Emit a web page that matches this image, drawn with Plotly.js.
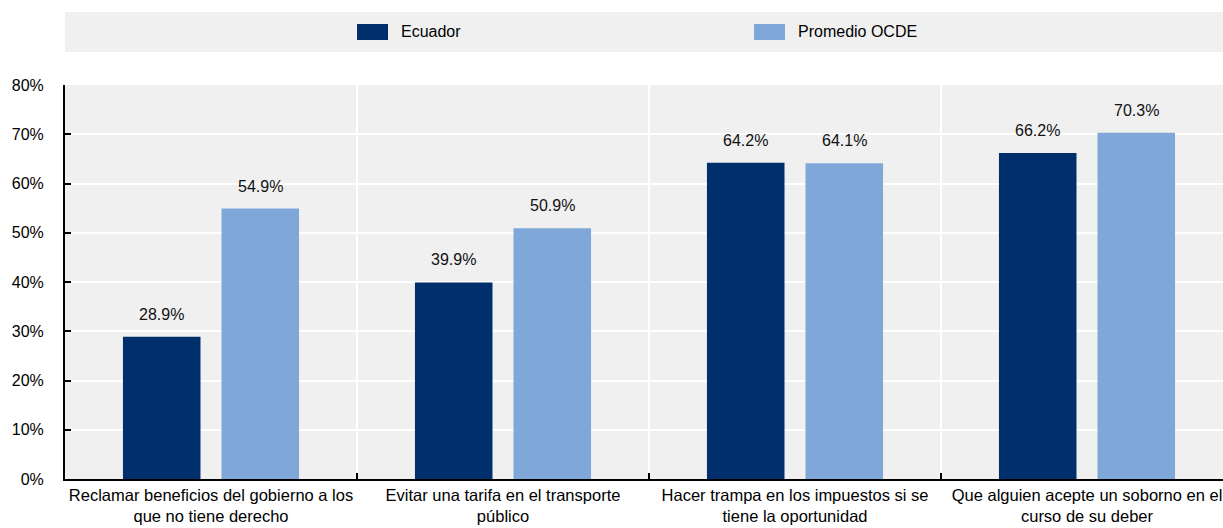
<!DOCTYPE html>
<html>
<head>
<meta charset="utf-8">
<script src="https://cdn.plot.ly/plotly-3.0.1.min.js"></script>
<style>html,body{margin:0;padding:0;background:#fff;}#chart{width:1223px;height:528px;}</style>
</head>
<body>
<div id="chart"></div>
<script>
const categories = [
  "Reclamar beneficios del gobierno a los<br>que no tiene derecho",
  "Evitar una tarifa en el transporte<br>público",
  "Hacer trampa en los impuestos si se<br>tiene la oportunidad",
  "Que alguien acepte un soborno en el<br>curso de su deber"
];
const seriesNames = ["Ecuador", "Promedio OCDE"];
const ecuador = [28.9, 39.9, 64.2, 66.2];
const ocde = [54.9, 50.9, 64.1, 70.3];
const yTickVals = [0, 10, 20, 30, 40, 50, 60, 70, 80];
const yTickText = yTickVals.map(v => v + '%');

const colors = ["#002F6C", "#7FA8D9"];
const FONT = "'Liberation Sans', Arial, sans-serif";
const W = 1223, H = 528;
const M = {l: 65, r: 0, t: 85, b: 49};

const idx = categories.map((c, i) => i);
const traces = [ecuador, ocde].map((vals, k) => ({
  type: 'bar',
  name: seriesNames[k],
  x: idx,
  y: vals,
  marker: {color: colors[k], line: {width: 0}},
  hoverinfo: 'y'
}));

const bargap = 0.325, bargroupgap = 0.213;
const slot = (1 - bargap) / 2;
const annotations = [];
[ecuador, ocde].forEach((vals, k) => {
  vals.forEach((v, i) => {
    annotations.push({
      x: i + (k === 0 ? -slot / 2 : slot / 2), y: v, xref: 'x', yref: 'y',
      text: v.toFixed(1) + '%', showarrow: false,
      yanchor: 'bottom', yshift: 12,
      font: {family: FONT, size: 16, color: '#111'}
    });
  });
});

const plotW = W - M.l - M.r, plotH = H - M.t - M.b;
const px2x = p => (p - M.l) / plotW;
const py2y = p => (H - M.b - p) / plotH;
const shapes = [{
  type: 'rect', xref: 'paper', yref: 'paper',
  x0: px2x(65), x1: px2x(1223), y0: py2y(52), y1: py2y(12),
  fillcolor: '#F0F0F0', line: {width: 0}, layer: 'below'
}];
const legendX = [357, 754];
seriesNames.forEach((n, k) => {
  shapes.push({
    type: 'rect', xref: 'paper', yref: 'paper',
    x0: px2x(legendX[k]), x1: px2x(legendX[k] + 31), y0: py2y(40), y1: py2y(24),
    fillcolor: colors[k], line: {width: 0}
  });
  annotations.push({
    xref: 'paper', yref: 'paper', x: px2x(legendX[k] + 42), y: py2y(32),
    xanchor: 'left', yanchor: 'middle', text: n, showarrow: false,
    font: {family: FONT, size: 16, color: '#000'}
  });
});

const layout = {
  width: W, height: H,
  margin: M,
  paper_bgcolor: '#fff', plot_bgcolor: '#F0F0F0',
  font: {family: FONT, size: 16, color: '#000'},
  showlegend: false,
  barmode: 'group', bargap: bargap, bargroupgap: bargroupgap,
  xaxis: {
    type: 'linear',
    range: [-0.5, -0.5 + plotW / 292],
    tickvals: idx, ticktext: categories,
    ticks: '', showgrid: false, zeroline: false,
    showline: true, linecolor: '#000', linewidth: 2,
    tickfont: {family: FONT, size: 16.5, color: '#000'},
    ticklabelstandoff: 0,
    ticklabeloverflow: 'allow'
  },
  yaxis: {
    range: [0, 80], tickvals: yTickVals, ticktext: yTickText,
    ticks: 'inside', ticklen: 6, tickwidth: 2, tickcolor: '#000',
    showgrid: true, gridcolor: '#FFFFFF', gridwidth: 2,
    zeroline: false, showline: true, linecolor: '#000', linewidth: 2,
    tickfont: {family: FONT, size: 16, color: '#000'},
    ticklabelstandoff: 16
  },
  shapes: shapes,
  annotations: annotations
};

for (let i = 1; i < categories.length; i++) {
  layout.shapes.push({type: 'line', xref: 'x', yref: 'paper', x0: i - 0.5, x1: i - 0.5, y0: 0, y1: 1,
    line: {color: '#FFFFFF', width: 2}, layer: 'below'});
  layout.shapes.push({type: 'line', xref: 'x', yref: 'paper', x0: i - 0.5, x1: i - 0.5, y0: 0, y1: 6 / plotH,
    line: {color: '#000', width: 2}});
}

Plotly.newPlot('chart', traces, layout, {displayModeBar: false, staticPlot: true});
</script>
</body>
</html>
